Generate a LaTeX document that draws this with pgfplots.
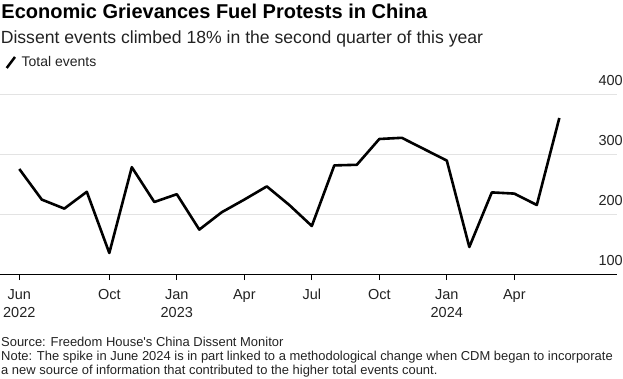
\documentclass[border=0pt]{standalone}
\usepackage{fontspec}
\setmainfont{Liberation Sans}
\usepackage{pgfplots}
\pgfplotsset{compat=1.18}
\definecolor{gridc}{HTML}{E3E3E3}
\definecolor{txt}{HTML}{222222}
\begin{document}
\begin{tikzpicture}
\path[use as bounding box] (0,0) rectangle (623pt,-379pt);
\begin{axis}[
  at={(0pt,-274pt)}, anchor=south west,
  scale only axis, width=617pt, height=180pt,
  xmin=-0.858, xmax=26.564, ymin=100, ymax=400,
  axis x line*=bottom, axis y line*=right,
  x axis line style={black, line width=1pt},
  y axis line style={draw=none},
  xtick={0,4,7,10,13,16,19,22},
  xticklabels={Jun\\2022,Oct,Jan\\2023,Apr,Jul,Oct,Jan\\2024,Apr},
  ytick={100,200,300,400},
  ymajorgrids, grid style={gridc, line width=0.9pt},
  tick align=outside, major tick length=6pt,
  xtick style={black, line width=0.8pt},
  ytick style={draw=none},
  /pgf/number format/assume math mode=true,
  xticklabel style={align=center, inner sep=0pt, anchor=north, yshift=-9pt,
     font=\fontsize{14.5}{18}\selectfont, text=txt},
  yticklabel style={anchor=south east, inner sep=0pt, xshift=0pt, yshift=8pt,
     font=\fontsize{14.5}{18}\selectfont, text=txt},
  clip=false,
]
\addplot[black, line width=2.6pt, line join=round, line cap=butt] coordinates {
(0,275) (1,224) (2,209) (3,237) (4,135) (5,278) (6,220) (7,233) (8,174)
(9,203) (10,224) (11,246) (12,215) (13,180) (14,281) (15,282) (16,325)
(17,327) (18,308) (19,289) (20,145) (21,236) (22,234) (23,215) (24,360)
};
\end{axis}
\node[anchor=base west, inner sep=0pt] at (1.3pt,-18.3pt)
  {\fontsize{20}{22}\selectfont\bfseries Economic Grievances Fuel Protests in China};
\node[anchor=base west, inner sep=0pt, text=txt] at (0.6pt,-44pt)
  {\fontsize{17.6}{20}\selectfont Dissent events climbed 18\% in the second quarter of this year};
\draw[black, line width=2.5pt] (6.7pt,-68pt) -- (15pt,-57pt);
\node[anchor=base west, inner sep=0pt, text=txt] at (21.5pt,-66.7pt)
  {\fontsize{14}{16}\selectfont Total events};
\node[anchor=base west, inner sep=0pt, text=txt] at (1pt,-346pt)
  {\fontsize{12.95}{14}\selectfont Source: Freedom House\textquotesingle s China Dissent Monitor};
\node[anchor=base west, inner sep=0pt, text=txt] at (1pt,-360.7pt)
  {\fontsize{12.95}{14}\selectfont Note: The spike in June 2024 is in part linked to a methodological change when CDM began to incorporate};
\node[anchor=base west, inner sep=0pt, text=txt] at (1pt,-374.3pt)
  {\fontsize{12.95}{14}\selectfont a new source of information that contributed to the higher total events count.};
\end{tikzpicture}
\end{document}
